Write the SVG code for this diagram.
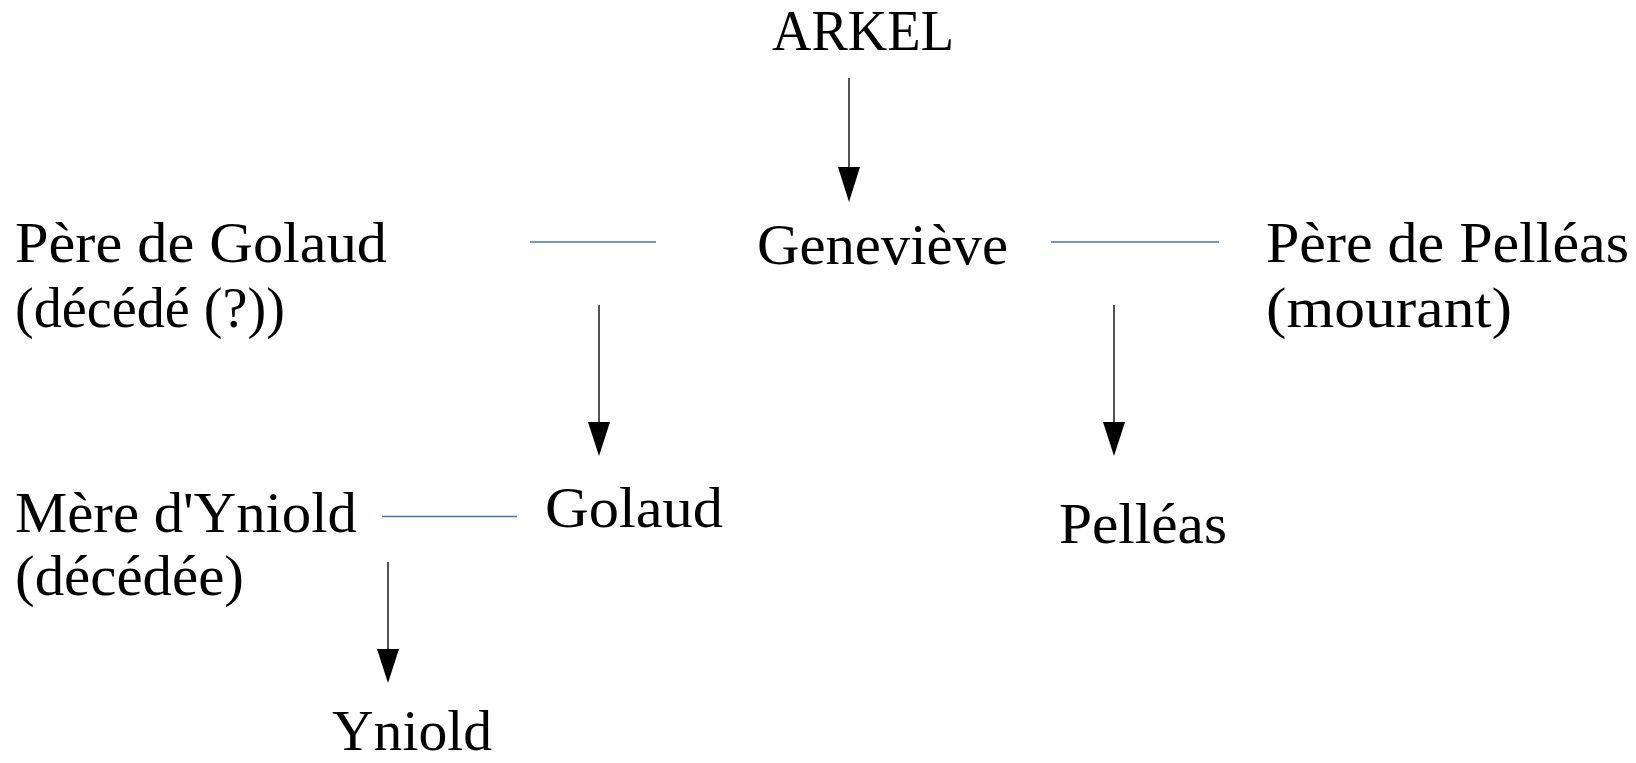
<svg xmlns="http://www.w3.org/2000/svg" width="1636" height="763" viewBox="0 0 1636 763">
<style>
.t{font-family:"Liberation Serif","Times New Roman",serif;font-size:56px;fill:#000}
.rel{stroke:#4472C4;stroke-width:1.3;fill:none}
.desc{stroke:#1a1a1a;stroke-width:1.5;fill:none}
.head{fill:#000}
</style>
<rect width="1636" height="763" fill="#fff"/>
<g id="connectors">
<line class="rel" x1="530" y1="242" x2="656" y2="242"/>
<line class="rel" x1="1051" y1="242" x2="1219" y2="242"/>
<line class="rel" x1="382" y1="516.5" x2="517" y2="516.5"/>
<g id="arrows">
<line class="desc" x1="849" y1="78" x2="849" y2="168"/>
<polygon class="head" points="838,167 860,167 849,202"/>
<line class="desc" x1="599" y1="305" x2="599" y2="423"/>
<polygon class="head" points="588,422 610,422 599,456"/>
<line class="desc" x1="1114" y1="305" x2="1114" y2="423"/>
<polygon class="head" points="1103,422 1125,422 1114,456"/>
<line class="desc" x1="388" y1="562" x2="388" y2="650"/>
<polygon class="head" points="377,649 399,649 388,683"/>
</g>
</g>
<g id="arkel"><text class="t" x="772" y="50" textLength="182" lengthAdjust="spacingAndGlyphs">ARKEL</text></g>
<g id="pere-golaud">
<text class="t" x="15" y="262" textLength="372" lengthAdjust="spacingAndGlyphs">Père de Golaud</text>
<text class="t" x="15" y="327" textLength="270" lengthAdjust="spacingAndGlyphs">(décédé (?))</text>
</g>
<g id="genevieve"><text class="t" x="757" y="264" textLength="251" lengthAdjust="spacingAndGlyphs">Geneviève</text></g>
<g id="pere-pelleas">
<text class="t" x="1266" y="262" textLength="363" lengthAdjust="spacingAndGlyphs">Père de Pelléas</text>
<text class="t" x="1266" y="327" textLength="246" lengthAdjust="spacingAndGlyphs">(mourant)</text>
</g>
<g id="mere-yniold">
<text class="t" x="15" y="532" textLength="342" lengthAdjust="spacingAndGlyphs">Mère d'Yniold</text>
<text class="t" x="15" y="595" textLength="229" lengthAdjust="spacingAndGlyphs">(décédée)</text>
</g>
<g id="golaud"><text class="t" x="545" y="527" textLength="178" lengthAdjust="spacingAndGlyphs">Golaud</text></g>
<g id="pelleas"><text class="t" x="1059" y="543" textLength="168" lengthAdjust="spacingAndGlyphs">Pelléas</text></g>
<g id="yniold"><text class="t" x="332" y="750" textLength="160" lengthAdjust="spacingAndGlyphs">Yniold</text></g>
</svg>
